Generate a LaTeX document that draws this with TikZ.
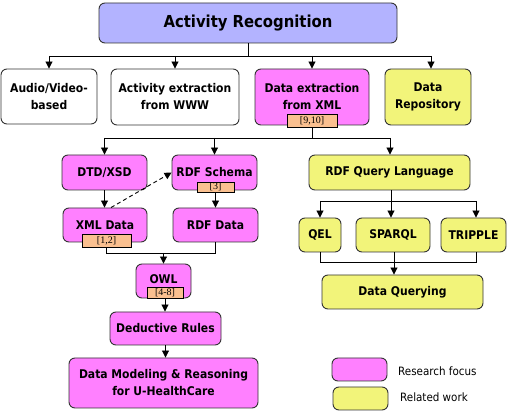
\documentclass[tikz,border=0pt]{standalone}
\usepackage{fontspec}
\setmainfont{DejaVu Sans Condensed}
\newfontfamily\lblfont{Liberation Serif}
\usetikzlibrary{arrows.meta}
\definecolor{lav}{HTML}{B3B3FF}
\definecolor{pnk}{HTML}{FF80FF}
\definecolor{ylw}{HTML}{F2F47A}
\definecolor{tan}{HTML}{FAC090}
\definecolor{edge}{HTML}{333333}
\tikzset{
  box/.style={draw=edge, line width=0.9pt, rounded corners=6pt, align=center, inner sep=0pt, font=\fontsize{12}{17}\selectfont\bfseries},
  pbox/.style={box, fill=pnk},
  ybox/.style={box, fill=ylw},
  wbox/.style={box, fill=white},
  ref/.style={draw=black, line width=0.6pt, fill=tan, inner sep=0pt, font=\lblfont\fontsize{10}{10}\selectfont},
  ln/.style={line width=0.9pt, black},
  arr/.style={ln, -{Triangle[length=7pt,width=7pt]}},
  legtext/.style={font=\fontsize{11.5}{12}\selectfont, anchor=west, inner sep=0pt}
}
\begin{document}
\begin{tikzpicture}[x=1pt,y=-1pt]
\useasboundingbox (0,0) rectangle (507,417);
% top
\node[box, fill=lav, minimum width=298, minimum height=40, font=\fontsize{16.5}{18}\selectfont\bfseries] (ar) at (248,23) {Activity Recognition};
\node[wbox, minimum width=96, minimum height=55] (av) at (49,96.5) {Audio/Video-\\based};
\node[wbox, minimum width=128, minimum height=56] (aw) at (175,97) {Activity extraction\\from WWW};
\node[pbox, minimum width=114, minimum height=56] (dx) at (312,97) {Data extraction\\from XML};
\node[ybox, minimum width=86, minimum height=56] (dr) at (428,97) {Data\\Repository};
\node[ref, minimum width=50, minimum height=13] (l910) at (312,120.5) {[9,10]};
% left column
\node[pbox, minimum width=85, minimum height=35] (dtd) at (104.5,172.5) {DTD/XSD};
\node[pbox, minimum width=85, minimum height=35] (rs) at (214.5,172.5) {RDF Schema};
\node[ref, minimum width=37, minimum height=10] (l3) at (215.5,187) {[3]};
\node[pbox, minimum width=84, minimum height=34] (xml) at (105,225) {XML Data};
\node[ref, minimum width=49, minimum height=13] (l12) at (106.5,240.5) {[1,2]};
\node[pbox, minimum width=85, minimum height=34] (rd) at (215.5,225) {RDF Data};
\node[pbox, minimum width=55, minimum height=34, text depth=0pt] (owl) at (163.5,281) {};
\node[box, draw=none, font=\fontsize{12}{17}\selectfont\bfseries] (owlt) at (163.5,279) {OWL};
\node[ref, minimum width=36, minimum height=11] (l48) at (165,292.5) {[4-8]};
\node[pbox, minimum width=111, minimum height=33] (ded) at (165.5,328.5) {Deductive Rules};
\node[pbox, minimum width=189, minimum height=50] (dm) at (163.5,383) {Data Modeling \& Reasoning\\for U-HealthCare};
% right column
\node[ybox, minimum width=161, minimum height=35] (rql) at (389.5,172.5) {RDF Query Language};
\node[ybox, minimum width=42, minimum height=34] (qel) at (320,235) {QEL};
\node[ybox, minimum width=74, minimum height=34] (sp) at (393,235) {SPARQL};
\node[ybox, minimum width=65, minimum height=34] (tr) at (473.5,235) {TRIPPLE};
\node[ybox, minimum width=161, minimum height=34] (dq) at (402.5,292) {Data Querying};
% legend
\node[pbox, minimum width=55, minimum height=23] (lg1) at (359.5,369.5) {};
\node[ybox, minimum width=55, minimum height=23] (lg2) at (360.5,398.5) {};
\node[legtext] (lt1) at (398,371) {Research focus};
\node[legtext] (lt2) at (400,397.5) {Related work};
% connectors top
\coordinate (b1) at (248,56);
\draw[ln] (ar.south) -- (b1);
\draw[ln] (av.north |- b1) -- (431,56) coordinate (b1r);
\draw[arr] (av.north |- b1) -- (av.north);
\draw[arr] (aw.north |- b1) -- (aw.north);
\draw[arr] (dx.north |- b1) -- (dx.north);
\draw[arr] (b1r) -- (b1r |- dr.north);
% second bus
\coordinate (b2) at (312,138);
\draw[ln] (l910.south) -- (b2);
\draw[ln] (dtd.north |- b2) -- (390,138) coordinate (b2r);
\draw[arr] (dtd.north |- b2) -- (dtd.north);
\draw[arr] (rs.north |- b2) -- (rs.north);
\draw[arr] (b2r) -- (b2r |- rql.north);
% left column links
\draw[arr] (dtd.south) -- (xml.north -| dtd.south);
\draw[arr, dashed, dash pattern=on 4pt off 3pt] ([xshift=6pt]xml.north) -- (rs.west);
\draw[arr] (l3.south) -- (l3.south |- rd.north);
\coordinate (b3) at (163.5,253);
\draw[ln] (l12.south) -- (l12.south |- b3) -- (rd.south |- b3) -- (rd.south);
\draw[arr] (b3) -- (owl.north);
\draw[arr] (l48.south) -- (l48.south |- ded.north);
\draw[arr] (ded.south) -- (dm.north -| ded.south);
% right column links
\coordinate (b4) at (391,201);
\draw[ln] (qel.north |- b4) -- (476,201) coordinate (b4r);
\draw[arr] (rql.south -| b4) -- (b4 |- sp.north);
\draw[arr] (qel.north |- b4) -- (qel.north);
\draw[arr] (b4r) -- (b4r |- tr.north);
\coordinate (b5) at (394,262);
\draw[ln] (qel.south) -- (qel.south |- b5) -- (b4r |- b5) -- (b4r |- tr.south);
\draw[ln] (sp.south -| b5) -- (b5);
\draw[arr] (b5) -- (b5 |- dq.north);
\end{tikzpicture}
\end{document}
